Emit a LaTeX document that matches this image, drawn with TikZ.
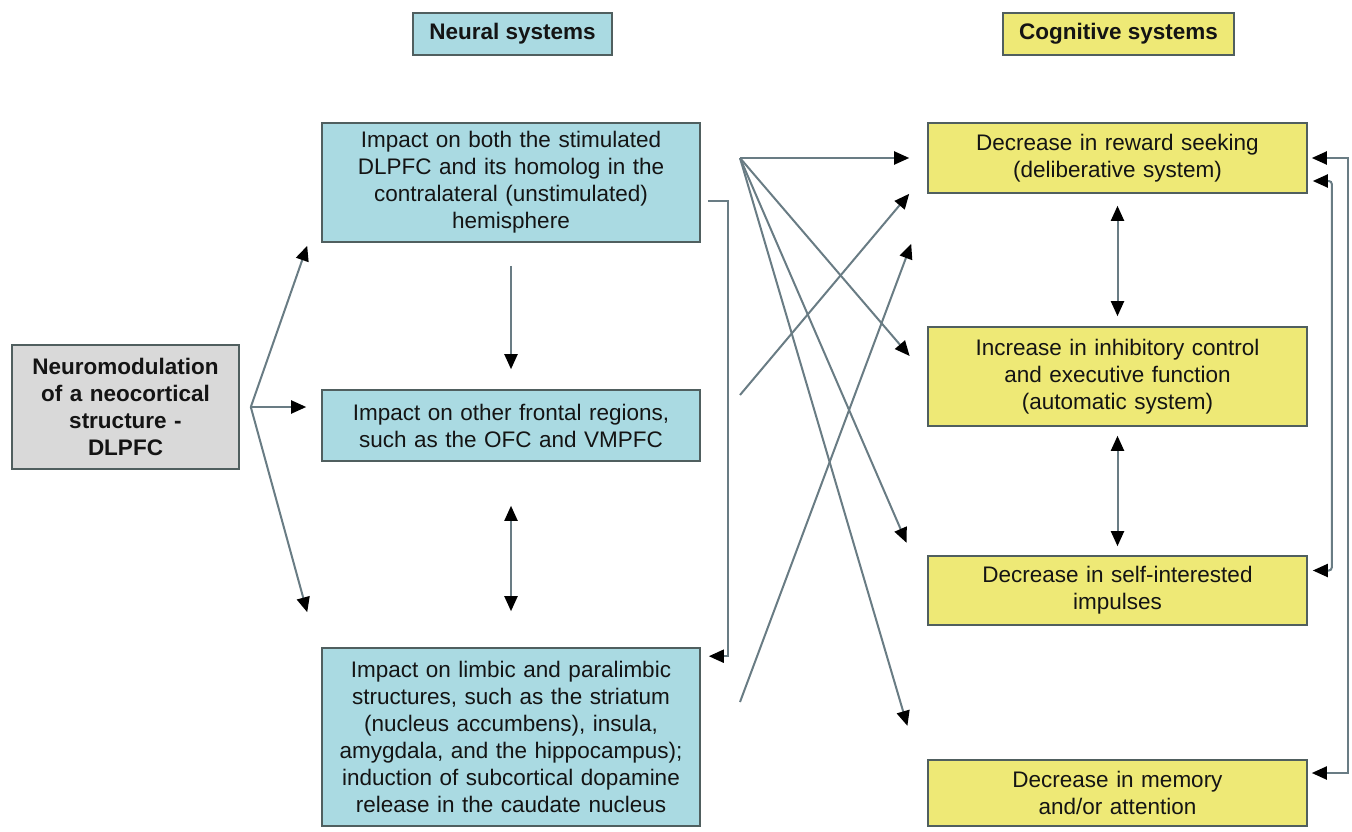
\documentclass[tikz,border=0pt]{standalone}
\usepackage{fontspec}
\setmainfont{Liberation Sans}
\usetikzlibrary{arrows.meta}
\definecolor{neuralfill}{RGB}{170,218,226}
\definecolor{cogfill}{RGB}{238,233,118}
\definecolor{srcfill}{RGB}{217,217,217}
\definecolor{boxline}{RGB}{80,95,95}
\definecolor{linec}{RGB}{105,124,132}
\definecolor{textc}{RGB}{20,20,20}

\begin{document}
\begin{tikzpicture}[x=1pt,y=-1pt,
    box/.style={draw=boxline, line width=1.6pt, inner sep=4pt, align=center, text=textc, font=\fontsize{22.5}{27}\selectfont},
    neural/.style={box, fill=neuralfill, text width=370pt, minimum width=378pt},
    cogn/.style={box, fill=cogfill, text width=371pt, minimum width=379pt},
    head/.style={box, font=\fontsize{22.5}{27}\selectfont\bfseries, minimum height=42pt},
    conn/.style={draw=linec, line width=2pt},
    arr/.style={conn, -{Triangle[length=15pt,width=13pt,color=black]}},
    dbl/.style={conn, {Triangle[length=15pt,width=13pt,color=black]}-{Triangle[length=15pt,width=13pt,color=black]}}]
    \useasboundingbox (0,0) rectangle (1352,832);

    % headings
    \node[head, fill=neuralfill, minimum width=199pt] (nhead) at (512.5,34) {Neural systems};
    \node[head, fill=cogfill, minimum width=231pt] (chead) at (1118.5,34) {Cognitive systems};

    % source
    \node[box, fill=srcfill, font=\fontsize{22.5}{27}\selectfont\bfseries, text width=219pt, minimum width=227pt, minimum height=124pt] (src) at (125.5,407) {Neuromodulation\\of a neocortical\\structure -\\DLPFC};

    % neural systems
    \node[neural, minimum height=119pt] (n1) at (511,182.5) {Impact on both the stimulated\\DLPFC and its homolog in the\\contralateral (unstimulated)\\hemisphere};
    \node[neural, minimum height=71pt] (n2) at (511,425.5) {Impact on other frontal regions,\\such as the OFC and VMPFC};
    \node[neural, minimum height=178pt] (n3) at (511,737) {Impact on limbic and paralimbic\\structures, such as the striatum\\(nucleus accumbens), insula,\\amygdala, and the hippocampus);\\induction of subcortical dopamine\\release in the caudate nucleus};

    % cognitive systems
    \node[cogn, minimum height=70pt] (c1) at (1117.5,158) {Decrease in reward seeking\\(deliberative system)};
    \node[cogn, minimum height=99pt] (c2) at (1117.5,376.5) {Increase in inhibitory control\\and executive function\\(automatic system)};
    \node[cogn, minimum height=69pt] (c3) at (1117.5,590.5) {Decrease in self-interested\\impulses};
    \node[cogn, minimum height=66pt] (c4) at (1117.5,793) {Decrease in memory\\and/or attention};

    % source to neural
    \coordinate (split) at ([xshift=11pt]src.east);
    \coordinate (s1) at ([shift={(-14,3)}]n1.south west);
    \coordinate (s2) at (split -| n2.west);
    \coordinate (s3) at ([shift={(-14,-35)}]n3.north west);
    \draw[arr] (split) -- (s1);
    \draw[arr, shorten >=15pt] (split) -- (s2);
    \draw[arr] (split) -- (s3);

    \draw[arr, shorten <=23pt, shorten >=20pt] (n1.south) -- (n2.north);
    \draw[dbl, shorten <=44pt, shorten >=36pt] (n2.south) -- (n3.north);
    \draw[arr] ([shift={(7,18)}]n1.east) -- ++(20,0) |- ([shift={(8,9)}]n3.north east);

    % neural to cognitive
    \coordinate (fan) at (740,158);
    \coordinate (n2out) at (740,395);
    \coordinate (n3out) at (740,702);
    \draw[arr, shorten >=18pt] (fan) -- (c1.west);
    \draw[arr, shorten >=27pt] (fan) -- (c2.west);
    \draw[arr, shorten >=52pt] (fan) -- (c3.west);
    \draw[arr, shorten >=70pt] (fan) -- (c4.west);
    \draw[arr] (n2out) -- ([xshift=-18pt]c1.south west);
    \draw[arr] (n3out) -- ([shift={(-16,50)}]c1.south west);

    % between cognitive systems
    \draw[dbl, shorten <=12pt, shorten >=10pt] (c1.south) -- (c2.north);
    \draw[dbl, shorten <=9pt, shorten >=9pt] (c2.south) -- (c3.north);
    \draw[dbl, rounded corners=3pt] ([shift={(5,23)}]c1.east) -- ++(19,0) |- ([shift={(5,-20)}]c3.east);
    \draw[dbl] ([xshift=4pt]c1.east) -- ++(36,0) |- ([shift={(4,-20)}]c4.east);
\end{tikzpicture}
\end{document}
